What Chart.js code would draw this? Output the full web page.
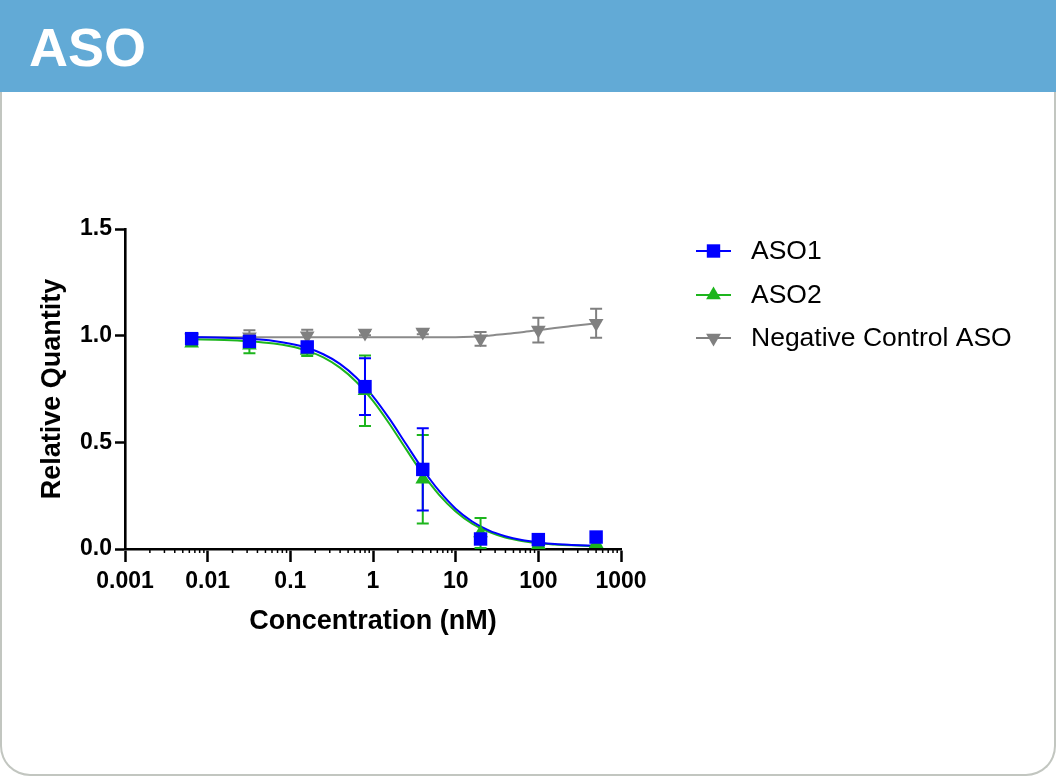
<!DOCTYPE html>
<html>
<head>
<meta charset="utf-8">
<script src="https://cdn.jsdelivr.net/npm/chart.js@4.4.1/dist/chart.umd.min.js"></script>
<style>
  html, body { margin: 0; padding: 0; background: #fff; }
  #page { position: relative; width: 1056px; height: 776px; overflow: hidden; }
  #header { position: absolute; left: 0; top: 0; width: 1056px; height: 92px; background: #62aad6; }
  #header span { position: absolute; left: 29px; top: 20px; font: bold 54px "Liberation Sans", Arial, sans-serif; line-height: 54px; color: #fff; }
  #card { position: absolute; left: 0; top: 92px; width: 1056px; height: 684px; box-sizing: border-box;
          border: 2px solid #c2c6c0; border-top: none; border-radius: 0 0 30px 30px; }
  #chartBox { position: absolute; left: 0; top: 0; width: 1056px; height: 776px; }
</style>
</head>
<body>
<div id="page">
  <div id="header"><span>ASO</span></div>
  <div id="card"></div>
  <div id="chartBox"><canvas id="doseChart" width="1056" height="776"></canvas></div>
</div>
<script>
// concentrations (nM), 5-fold dilution
const conc = [0.0064, 0.032, 0.16, 0.8, 4, 20, 100, 500];

// mean relative quantity
const aso1 = [0.986, 0.973, 0.947, 0.761, 0.373, 0.047, 0.044, 0.056];
const aso2 = [0.965, 0.955, 0.930, 0.742, 0.327, 0.075, 0.020, 0.025];
const negCtrl = [0.990, 0.995, 1.000, 1.012, 1.017, 0.985, 1.026, 1.058];

// error bars (+/-)
const aso1Err = [0.012, 0.025, 0.015, 0.133, 0.193, 0.006, 0.006, 0.006];
const aso2Err = [0.010, 0.038, 0.025, 0.165, 0.207, 0.070, 0.010, 0.010];
const negErr = [0.010, 0.030, 0.028, 0.010, 0.010, 0.032, 0.058, 0.068];

// fitted curves
const fitX = [0.0064, 0.0158, 0.0316, 0.0631, 0.1, 0.158, 0.251, 0.398, 0.631, 1, 1.585, 2.512,
              3.981, 6.31, 10, 15.85, 25.12, 39.81, 63.1, 100, 158.5, 251.2, 500];
const fit1 = [0.993, 0.990, 0.985, 0.975, 0.962, 0.943, 0.913, 0.868, 0.803, 0.716, 0.610, 0.492,
              0.375, 0.272, 0.189, 0.129, 0.087, 0.060, 0.042, 0.031, 0.023, 0.019, 0.015];
const fit2 = [0.983, 0.980, 0.974, 0.963, 0.950, 0.930, 0.898, 0.850, 0.783, 0.694, 0.586, 0.468,
              0.353, 0.254, 0.176, 0.119, 0.080, 0.054, 0.038, 0.027, 0.021, 0.017, 0.013];
const fitNeg = [0.993, 0.993, 0.993, 0.993, 0.993, 0.993, 0.993, 0.993, 0.993, 0.993, 0.993, 0.993,
                0.993, 0.993, 0.993, 0.995, 1.000, 1.008, 1.016, 1.026, 1.036, 1.045, 1.058];

const seriesNames = ['ASO1', 'ASO2', 'Negative Control ASO'];

const xTicks = [0.001, 0.01, 0.1, 1, 10, 100, 1000];
const xTickLabels = ['0.001', '0.01', '0.1', '1', '10', '100', '1000'];
const yTicks = [0, 0.5, 1, 1.5];
const yTickLabels = ['0.0', '0.5', '1.0', '1.5'];

const colors = {
  blue: '#0000ff',
  green: '#1db51d',
  grey: '#808080',
};

const pts = (xs, ys) => xs.map((v, i) => ({ x: v, y: ys[i] }));

const fam = '"Liberation Sans", Arial, sans-serif';
const tickFont = { family: fam, weight: 'bold', size: 23 };
const titleFont = { family: fam, weight: 'bold', size: 27 };

// draws a marker in the same shapes as the datasets
function marker(ctx, style, x, y, color) {
  ctx.fillStyle = color;
  ctx.beginPath();
  if (style === 'rect') {
    ctx.rect(x - 6.7, y - 6.7, 13.4, 13.4);
  } else if (style === 'up') {
    ctx.moveTo(x, y - 8.5);
    ctx.lineTo(x + 7.4, y + 4.25);
    ctx.lineTo(x - 7.4, y + 4.25);
  } else {
    ctx.moveTo(x, y + 8.5);
    ctx.lineTo(x + 7.4, y - 4.25);
    ctx.lineTo(x - 7.4, y - 4.25);
  }
  ctx.closePath();
  ctx.fill();
}

const extras = {
  id: 'extras',
  beforeDatasetsDraw(chart) {
    const { ctx, scales: { x, y } } = chart;
    const sets = [[negCtrl, negErr, colors.grey], [aso2, aso2Err, colors.green], [aso1, aso1Err, colors.blue]];
    ctx.save();
    ctx.lineWidth = 2;
    sets.forEach(([vals, errs, col]) => {
      ctx.strokeStyle = col;
      conc.forEach((c, i) => {
        const px = x.getPixelForValue(c);
        const top = y.getPixelForValue(vals[i] + errs[i]);
        const bot = y.getPixelForValue(vals[i] - errs[i]);
        ctx.beginPath();
        ctx.moveTo(px, top); ctx.lineTo(px, bot);
        ctx.moveTo(px - 6, top); ctx.lineTo(px + 6, top);
        ctx.moveTo(px - 6, bot); ctx.lineTo(px + 6, bot);
        ctx.stroke();
      });
    });
    ctx.restore();
  },
  afterDraw(chart) {
    const { ctx, scales: { x } } = chart;
    ctx.save();
    // minor log ticks
    ctx.strokeStyle = '#000';
    ctx.lineWidth = 1.5;
    for (let d = -3; d < 3; d++) {
      for (let k = 2; k < 10; k++) {
        const px = x.getPixelForValue(k * Math.pow(10, d));
        ctx.beginPath();
        ctx.moveTo(px, x.top);
        ctx.lineTo(px, x.top + 4);
        ctx.stroke();
      }
    }
    // legend
    const styles = ['rect', 'up', 'down'];
    const cols = [colors.blue, colors.green, colors.grey];
    const rows = [251, 295, 338];
    ctx.font = '26.5px ' + fam;
    ctx.textBaseline = 'middle';
    seriesNames.forEach((name, i) => {
      ctx.strokeStyle = cols[i];
      ctx.lineWidth = 2;
      ctx.beginPath();
      ctx.moveTo(696, rows[i]);
      ctx.lineTo(731, rows[i]);
      ctx.stroke();
      marker(ctx, styles[i], 713.5, rows[i], cols[i]);
      ctx.fillStyle = '#000';
      ctx.fillText(name, 751, rows[i] + 1);
    });
    ctx.restore();
  }
};

const ctx = document.getElementById('doseChart').getContext('2d');

new Chart(ctx, {
  type: 'line',
  data: {
    datasets: [
      { label: seriesNames[0], data: pts(conc, aso1), showLine: false, pointStyle: 'rect', pointRadius: 9.5,
        backgroundColor: colors.blue, borderColor: colors.blue, pointBorderWidth: 0, order: 1 },
      { label: seriesNames[1], data: pts(conc, aso2), showLine: false, pointStyle: 'triangle', pointRadius: 8.5,
        backgroundColor: colors.green, borderColor: colors.green, pointBorderWidth: 0, order: 2 },
      { label: seriesNames[2], data: pts(conc, negCtrl), showLine: false, pointStyle: 'triangle', pointRotation: 180,
        pointRadius: 8.5, backgroundColor: colors.grey, borderColor: colors.grey, pointBorderWidth: 0, order: 3 },
      { label: 'fit1', data: pts(fitX, fit1), pointRadius: 0, borderColor: colors.blue, borderWidth: 2,
        cubicInterpolationMode: 'monotone', order: 4 },
      { label: 'fit2', data: pts(fitX, fit2), pointRadius: 0, borderColor: colors.green, borderWidth: 2,
        cubicInterpolationMode: 'monotone', order: 5 },
      { label: 'fitNeg', data: pts(fitX, fitNeg), pointRadius: 0, borderColor: '#8a8a8a', borderWidth: 2,
        cubicInterpolationMode: 'monotone', order: 6 }
    ]
  },
  options: {
    responsive: false,
    animation: false,
    events: [],
    layout: { padding: { left: 0, top: 229, right: 435, bottom: 127 } },
    plugins: { legend: { display: false }, tooltip: { enabled: false } },
    scales: {
      x: {
        type: 'logarithmic',
        min: 0.001,
        max: 1000,
        afterBuildTicks: (scale) => { scale.ticks = xTicks.map(v => ({ value: v, major: true })); },
        afterFit: (scale) => { scale.height = 100; },
        ticks: { callback: (v, i) => xTickLabels[i], color: '#000', font: tickFont, padding: 6,
                 maxRotation: 0, autoSkip: false },
        grid: { drawOnChartArea: false, tickLength: 13, tickWidth: 2.5, tickColor: '#000' },
        border: { color: '#000', width: 2.6 },
        title: { display: true, text: 'Concentration (nM)', color: '#000', font: titleFont,
                 padding: { top: 0, bottom: 11 } }
      },
      y: {
        min: 0,
        max: 1.5,
        afterBuildTicks: (scale) => { scale.ticks = yTicks.map(v => ({ value: v })); },
        afterFit: (scale) => { scale.width = 125; },
        ticks: { callback: (v, i) => yTickLabels[i], color: '#000', font: tickFont, padding: 3 },
        grid: { drawOnChartArea: false, tickLength: 10, tickWidth: 2.5, tickColor: '#000' },
        border: { color: '#000', width: 2.6 },
        title: { display: true, text: 'Relative Quantity', color: '#000', font: titleFont,
                 padding: { top: 36, bottom: 0 } }
      }
    }
  },
  plugins: [extras]
});
</script>
</body>
</html>
